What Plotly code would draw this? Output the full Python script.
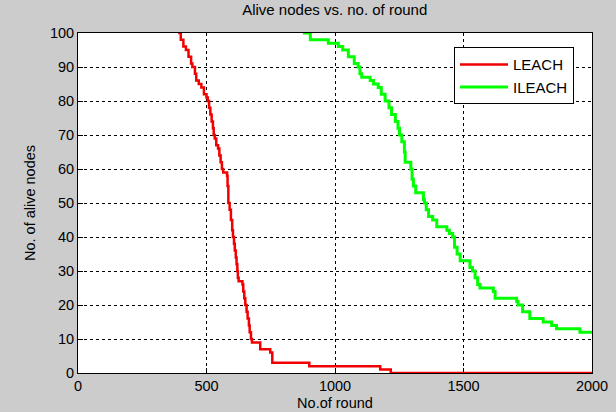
import plotly.graph_objects as go

# LEACH: (round, alive nodes) step points
leach_rounds = [390, 400, 410, 420, 430, 440, 445, 455, 460, 470, 480, 490, 500, 505, 510, 515,
                520, 525, 528, 532, 538, 545, 550, 555, 560, 565, 580, 582, 585, 590, 595, 600,
                603, 607, 610, 614, 617, 620, 622, 625, 640, 643, 647, 651, 656, 660, 665, 668,
                673, 677, 709, 748, 756, 900, 1176, 1217, 2000]
leach_alive = [100, 98, 96, 95, 93, 91, 90, 88, 86, 85, 84, 82, 81, 80, 78, 76,
               74, 72, 70, 69, 67, 66, 64, 62, 60, 59, 58, 55, 50, 48, 45, 42,
               40, 38, 36, 34, 32, 30, 28, 27, 26, 24, 22, 20, 18, 16, 14, 12,
               10, 9, 7, 6, 3, 2, 1, 0, 0]

# ILEACH: (round, alive nodes) step points
ileach_rounds = [875, 904, 974, 1013, 1030, 1052, 1075, 1090, 1097, 1104, 1137, 1150, 1168, 1180,
                 1195, 1210, 1220, 1235, 1245, 1251, 1260, 1270, 1273, 1295, 1300, 1305, 1314,
                 1344, 1348, 1355, 1364, 1380, 1396, 1435, 1445, 1458, 1465, 1475, 1487, 1525,
                 1535, 1545, 1555, 1564, 1616, 1623, 1707, 1712, 1730, 1758, 1810, 1843, 1862,
                 1953, 2000]
ileach_alive = [100, 98, 97, 96, 95, 93, 91, 90, 88, 87, 86, 85, 84, 82,
                80, 78, 76, 74, 72, 70, 68, 65, 62, 60, 57, 55, 53,
                51, 50, 48, 46, 45, 43, 42, 41, 40, 37, 35, 33, 31,
                30, 28, 26, 25, 24, 22, 21, 20, 18, 16, 15, 14, 13,
                12, 12]

x_ticks = [0, 500, 1000, 1500, 2000]
y_ticks = [0, 10, 20, 30, 40, 50, 60, 70, 80, 90, 100]

FONT = "Liberation Sans, Arial, sans-serif"

fig = go.Figure()
fig.add_trace(go.Scatter(x=leach_rounds, y=leach_alive, mode="lines", name="LEACH",
                         line=dict(color="#f00000", width=2.5, shape="hv")))
fig.add_trace(go.Scatter(x=ileach_rounds, y=ileach_alive, mode="lines", name="ILEACH",
                         line=dict(color="#00ff00", width=3, shape="hv")))

axis_common = dict(
    showline=True, linecolor="#000000", linewidth=1, mirror=True,
    showgrid=True, gridcolor="#000000", gridwidth=1, griddash="3px,3px",
    zeroline=False, ticks="inside", ticklen=5, tickcolor="#000000",
    tickfont=dict(family=FONT, size=14.5, color="#000000"),
    layer="below traces", automargin=False,
)

fig.update_layout(
    width=616, height=412,
    paper_bgcolor="#cccccc", plot_bgcolor="#ffffff",
    margin=dict(l=78, r=24, t=33, b=39),
    title=dict(text="Alive nodes vs. no. of round", x=(77.5 + 592) / 2 / 616, xanchor="center",
               y=1 - 10 / 412, yanchor="middle",
               font=dict(family=FONT, size=15, color="#000000")),
    showlegend=True,
    legend=dict(x=0.965, y=0.958, xanchor="right", yanchor="top",
                bgcolor="#ffffff", bordercolor="#000000", borderwidth=1,
                itemwidth=48, font=dict(family=FONT, size=15, color="#000000"),
                tracegroupgap=0),
    xaxis=dict(range=[0, 2000], tickvals=x_ticks,
               title=dict(text="No.of round", font=dict(family=FONT, size=14.5, color="#000000"),
                          standoff=4),
               **axis_common),
    yaxis=dict(range=[0, 100], tickvals=y_ticks,
               title=dict(text="No. of alive nodes", font=dict(family=FONT, size=14.5, color="#000000"),
                          standoff=10),
               **axis_common),
)

fig.write_html("out.html")
